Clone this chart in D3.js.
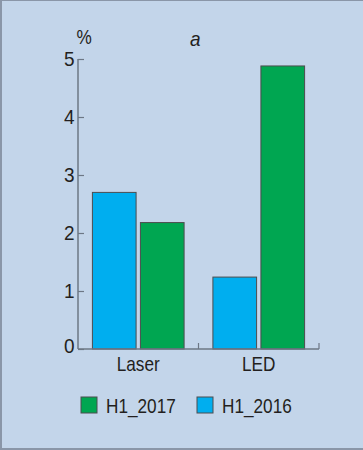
<!DOCTYPE html>
<html>
<head>
<meta charset="utf-8">
<script src="https://cdn.jsdelivr.net/npm/d3@7"></script>
<style>
body { margin: 0; padding: 0; background: #fff; }
svg text { font-family: "Liberation Sans", Arial, sans-serif; fill: #231f20; }
</style>
</head>
<body>
<div id="canvas-container"></div>
<script>
var categories = ["Laser", "LED"];
var seriesNames = ["H1_2016", "H1_2017"];
var values2016 = [2.70, 1.24];
var values2017 = [2.18, 4.88];
var yTicks = [0, 1, 2, 3, 4, 5];
var legendOrder = ["H1_2017", "H1_2016"];

var colors = { "H1_2016": "#00aeef", "H1_2017": "#00a651" };

var w = 363, h = 450;
var padLeft = 78, padRight = 319, padTop = 59, padBottom = 349;

var svg = d3.select("#canvas-container").append("svg")
    .attr("width", w)
    .attr("height", h);

// panel background and border
svg.append("rect").attr("x", 0).attr("y", 0).attr("width", w).attr("height", h).attr("fill", "#c3d5ea");
svg.append("rect").attr("x", 0).attr("y", 0).attr("width", 2).attr("height", h).attr("fill", "#8a96a8");
svg.append("rect").attr("x", 0).attr("y", 0).attr("width", w).attr("height", 1).attr("fill", "#8a96a8");
svg.append("rect").attr("x", 0).attr("y", h - 2).attr("width", w).attr("height", 2).attr("fill", "#8a96a8");

// condensed text helper
function label(x, y, str, size, anchor, sq) {
    return svg.append("text")
        .attr("transform", "translate(" + x + "," + y + ") scale(" + (sq || 0.86) + ",1)")
        .attr("text-anchor", anchor || "start")
        .attr("font-size", size)
        .text(str);
}

var x0 = d3.scaleBand().domain(categories).range([padLeft, padRight]).paddingInner(0).paddingOuter(0);
var x1 = d3.scaleBand().domain(seriesNames).range([0, x0.bandwidth()]).paddingInner(0.09).paddingOuter(0.3);
var y = d3.scaleLinear().domain([0, 5]).range([padBottom, padTop]);

var data = [];
categories.forEach(function(c, i) {
    data.push({ cat: c, series: "H1_2016", value: values2016[i] });
    data.push({ cat: c, series: "H1_2017", value: values2017[i] });
});

svg.selectAll("rect.bar").data(data).enter().append("rect")
    .attr("class", "bar")
    .attr("x", function(d) { return x0(d.cat) + x1(d.series); })
    .attr("y", function(d) { return y(d.value); })
    .attr("width", x1.bandwidth())
    .attr("height", function(d) { return y(0) - y(d.value); })
    .attr("fill", function(d) { return colors[d.series]; })
    .attr("stroke", "#4d4d4f")
    .attr("stroke-width", 1);

// y axis
var yAxis = d3.axisRight(y).tickValues(yTicks).tickSize(6).tickFormat("");
var gy = svg.append("g").attr("transform", "translate(" + padLeft + ",0)").call(yAxis);
gy.select(".domain").remove();
gy.selectAll(".tick line").attr("stroke", "#6d7785").attr("stroke-width", 1.2);
svg.append("line").attr("x1", padLeft).attr("x2", padLeft).attr("y1", y(5)).attr("y2", y(0))
    .attr("stroke", "#6d7785").attr("stroke-width", 1.5);

yTicks.forEach(function(d) {
    label(padLeft - 3.5, y(d) + (d === 0 ? 4 : 7), d, 20, "end", 0.95);
});

// x axis
svg.append("line").attr("x1", padLeft).attr("x2", padRight).attr("y1", padBottom).attr("y2", padBottom)
    .attr("stroke", "#6d7785").attr("stroke-width", 1.5);
var xEdges = categories.map(function(c) { return x0(c) + x0.bandwidth(); });
svg.selectAll("line.xtick").data(xEdges).enter().append("line")
    .attr("class", "xtick")
    .attr("x1", function(d) { return d; }).attr("x2", function(d) { return d; })
    .attr("y1", padBottom).attr("y2", padBottom - 6)
    .attr("stroke", "#6d7785").attr("stroke-width", 1.2);

categories.forEach(function(c) {
    label(x0(c) + x0.bandwidth() / 2, 371, c, 20, "middle");
});

// unit and panel letter
label(76.5, 44, "%", 20, "start", 0.86);
label(190, 46, "a", 20, "start", 0.95).attr("font-style", "italic");

// legend
var legendX = [81, 197];
legendOrder.forEach(function(s, i) {
    svg.append("rect").attr("x", legendX[i]).attr("y", 397).attr("width", 16).attr("height", 16)
        .attr("fill", colors[s])
        .attr("stroke", "#4d4d4f").attr("stroke-width", 1);
    label(legendX[i] + 25, 413, s, 20);
});
</script>
</body>
</html>
